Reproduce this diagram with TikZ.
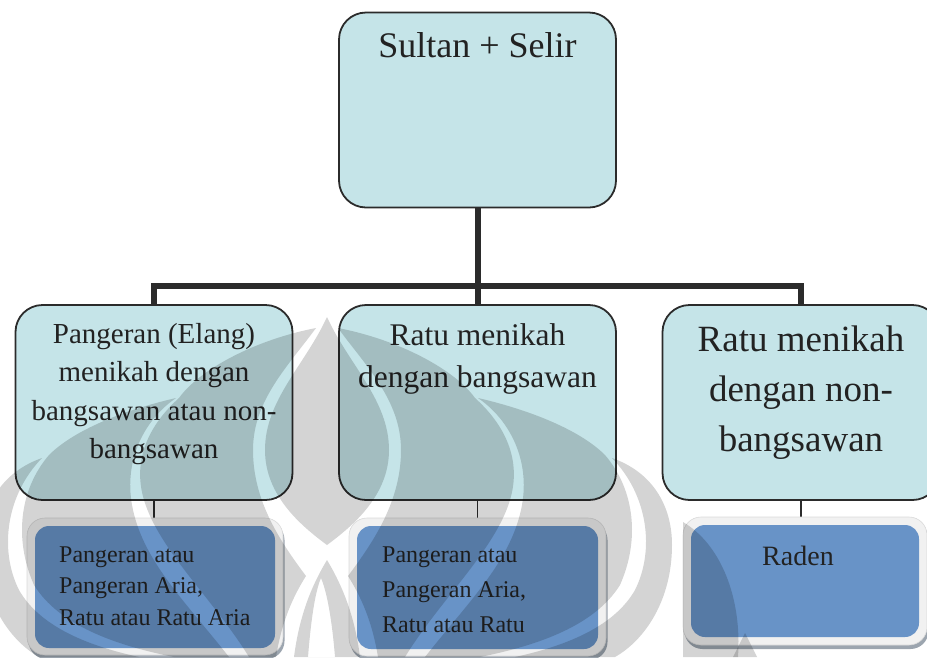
\documentclass[tikz,border=0pt]{standalone}
\usepackage{fontspec}
\setmainfont{Liberation Serif}
\usetikzlibrary{shadows,backgrounds}
\definecolor{boxcyan}{HTML}{C5E4E8}
\definecolor{boxblue}{HTML}{6893C7}
\definecolor{linegray}{HTML}{2B2B2B}
\definecolor{inkgray}{HTML}{222222}
\definecolor{framegray}{HTML}{F1F1F1}
\definecolor{shadegray}{HTML}{9CA5AF}

\begin{document}
\begin{tikzpicture}[x=1pt,y=-1pt,
   upbox/.style={draw=linegray,line width=1.8pt,fill=boxcyan,
     rounded corners=27pt,minimum width=277pt,minimum height=195pt},
   uptext/.style={text=inkgray,align=center,inner sep=0pt,anchor=north},
   lowframe/.style={draw=gray!30,line width=0.6pt,fill=framegray,
     rounded corners=18pt,
     drop shadow={shadow xshift=1.5pt,shadow yshift=-4pt,fill=shadegray,opacity=1}},
   lowbox/.style={fill=boxblue,rounded corners=14pt},
   lowtext/.style={text=inkgray,align=left,inner sep=0pt,anchor=north west},
   bus/.style={draw=linegray,line width=6pt},
   link/.style={draw=linegray,line width=1.6pt}]
   \useasboundingbox (0,0) rectangle (927,657);

   \node[upbox] (sultan) at (477.5,110) {};
   \node[upbox] (elang) at (154,402.5) {};
   \node[upbox] (bangsawan) at (477.5,402.5) {};
   \node[upbox] (nonbangsawan) at (801,402.5) {};

   \node[uptext,font=\fontsize{36}{43}\selectfont] (sultant) at (477.5,32.5)
     {Sultan + Selir};
   \node[uptext,font=\fontsize{29}{38.5}\selectfont] (elangt) at (154,323)
     {Pangeran (Elang)\\ menikah dengan\\ bangsawan atau non-\\ bangsawan};
   \node[uptext,font=\fontsize{31.5}{42}\selectfont] (bangsawant) at (477.5,323.5)
     {Ratu menikah\\ dengan bangsawan};
   \node[uptext,font=\fontsize{37}{50}\selectfont] (nonbangsawant) at (801,325.5)
     {Ratu menikah\\ dengan non-\\ bangsawan};

   \node[lowframe,minimum width=256pt,minimum height=137pt] (frame1) at (155,586.5) {};
   \node[lowbox,minimum width=240pt,minimum height=122pt] (gelar1) at (155,587) {};
   \node[lowframe,minimum width=257pt,minimum height=138pt] (frame2) at (477.5,587) {};
   \node[lowbox,minimum width=241pt,minimum height=123pt] (gelar2) at (477.5,587.5) {};
   \node[lowframe,minimum width=244pt,minimum height=128pt] (frame3) at (805,581) {};
   \node[lowbox,minimum width=228pt,minimum height=112pt] (gelar3) at (805,581) {};

   \node[lowtext,font=\fontsize{24}{31.5}\selectfont] (gelar1t) at (59,546.5)
     {Pangeran atau\\ Pangeran Aria,\\ Ratu atau Ratu Aria};
   \node[lowtext,font=\fontsize{24}{35}\selectfont] (gelar2t) at (382,546.5)
     {Pangeran atau\\ Pangeran Aria,\\ Ratu atau Ratu};
   \node[uptext,font=\fontsize{28}{34}\selectfont] (gelar3t) at (798,546)
     {Raden};

   \begin{scope}[on background layer]
    \coordinate (bus) at (477.5,286);
    \draw[bus] (sultan.south) -- (bus);
    \draw[bus] (elang.north) |- (bus) -| (nonbangsawan.north);
    \draw[bus] (bus) -- (bangsawan.north);
    \draw[link] (elang.south) -- (elang.south |- frame1.north);
    \draw[link] (bangsawan.south) -- (bangsawan.south |- frame2.north);
    \draw[link] (nonbangsawan.south) -- (nonbangsawan.south |- frame3.north);
   \end{scope}

   % watermark
   \begin{scope}[fill=black,fill opacity=0.17]
    \fill (327,317) .. controls (305,365) and (265,400) .. (265,450)
       .. controls (265,495) and (300,525) .. (327,545)
       .. controls (354,525) and (389,495) .. (389,450)
       .. controls (389,400) and (349,365) .. (327,317) -- cycle;
    \fill[even odd rule] (294,657) .. controls (300,610) and (315,580) .. (327,560)
       .. controls (339,580) and (354,610) .. (360,657) -- cycle
       (308,657) .. controls (311,620) and (315,592) .. (321,578)
       .. controls (327,592) and (332,620) .. (335,657) -- cycle;
    \foreach \s in {1,-1} {
     \begin{scope}[xshift={(1-(\s))*327pt},xscale=\s]
      \fill (338,328) .. controls (400,340) and (455,370) .. (475,398)
         .. controls (505,425) and (522,460) .. (510,500)
         .. controls (495,550) and (440,600) .. (405,657) -- (378,657)
         .. controls (372,620) and (360,595) .. (348,576)
         .. controls (375,540) and (401,500) .. (401,450)
         .. controls (401,400) and (365,365) .. (338,328) -- cycle;
      \fill (478,398) .. controls (530,410) and (580,430) .. (605,455)
         .. controls (635,490) and (640,540) .. (620,585)
         .. controls (595,625) and (540,645) .. (480,657) -- (425,657)
         .. controls (470,600) and (512,560) .. (522,505)
         .. controls (530,460) and (510,420) .. (478,398) -- cycle;
      \fill (612,458) .. controls (652,472) and (672,505) .. (672,545)
         .. controls (672,600) and (645,640) .. (615,657) -- (515,657)
         .. controls (570,645) and (615,625) .. (635,590)
         .. controls (655,550) and (648,495) .. (612,458) -- cycle;
     \end{scope}
    }
    \fill (683,522) .. controls (722,545) and (742,600) .. (738,657) -- (683,657) -- cycle;
    \fill (745,633) -- (757,657) -- (733,657) -- cycle;
   \end{scope}
\end{tikzpicture}
\end{document}
